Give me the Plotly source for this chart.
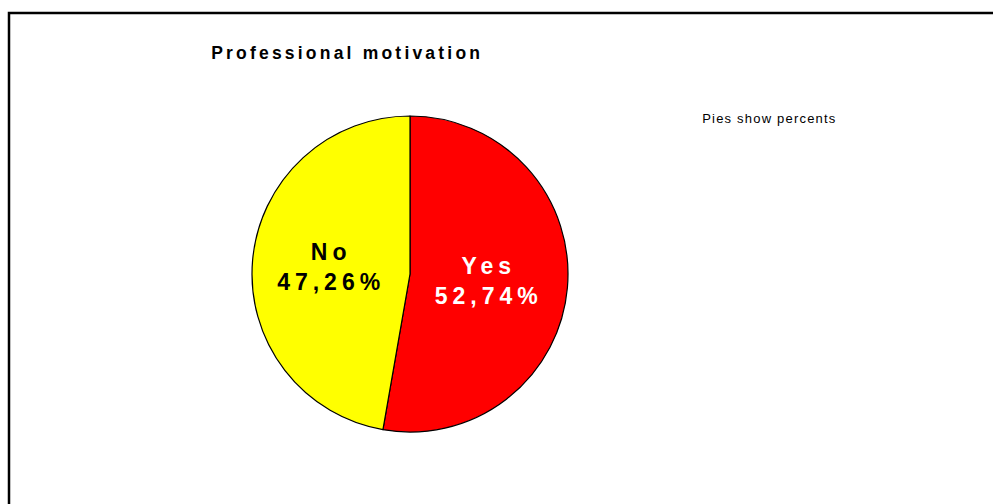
import plotly.graph_objects as go

W, H = 993, 504

categories = ["Yes", "No"]
values = [52.74, 47.26]
slice_colors = ["#FF0000", "#FFFF00"]
text_colors = ["white", "black"]
title_text = "Professional motivation"
note_text = "Pies show percents"

labels_text = [f"{c}<br>{v:.2f}%".replace(".", ",") for c, v in zip(categories, values)]

FONT = "Liberation Sans, Arial, sans-serif"

fig = go.Figure()
cx, cy, r = 410, 274, 158
fig.add_trace(go.Pie(
    labels=categories,
    values=values,
    text=labels_text,
    textinfo="text",
    texttemplate="%{text}",
    textposition="inside",
    insidetextorientation="horizontal",
    sort=False,
    direction="clockwise",
    rotation=0,
    marker=dict(colors=slice_colors, line=dict(color="black", width=1.2)),
    textfont=dict(family=FONT, size=23, color=text_colors, weight="bold"),
    showlegend=False,
    hoverinfo="label+percent",
    domain=dict(x=[(cx - r) / W, (cx + r) / W], y=[1 - (cy + r) / H, 1 - (cy - r) / H]),
))

fig.add_annotation(
    text="<b>" + title_text + "</b>", x=347 / W, y=1 - 53 / H, xref="paper", yref="paper",
    xanchor="center", yanchor="middle", showarrow=False,
    font=dict(family=FONT, size=17.5, color="black"),
)
fig.add_annotation(
    text=note_text, x=769 / W, y=1 - 118 / H, xref="paper", yref="paper",
    xanchor="center", yanchor="middle", showarrow=False,
    font=dict(family=FONT, size=13, color="black"),
)

fig.add_shape(type="rect", xref="paper", yref="paper",
              x0=9 / W, x1=1.05, y0=-0.05, y1=1 - 13 / H,
              line=dict(color="black", width=2.5), fillcolor="rgba(0,0,0,0)")

fig.update_layout(
    width=W, height=H,
    margin=dict(l=0, r=0, t=0, b=0),
    paper_bgcolor="white", plot_bgcolor="white",
)

post = """
document.body.style.margin = '0px';
document.body.style.overflow = 'hidden';
var ann = document.querySelectorAll('.annotation-text');
ann.forEach(function(e){
  var t = e.textContent;
  if (t.indexOf('Professional') >= 0) { e.style.letterSpacing = '3.2px'; }
  else { e.style.letterSpacing = '1.2px'; }
});
document.querySelectorAll('.slicetext').forEach(function(e){ e.style.letterSpacing = '5px'; });
"""

fig.write_html("out.html", post_script=post, config={"displayModeBar": False})
